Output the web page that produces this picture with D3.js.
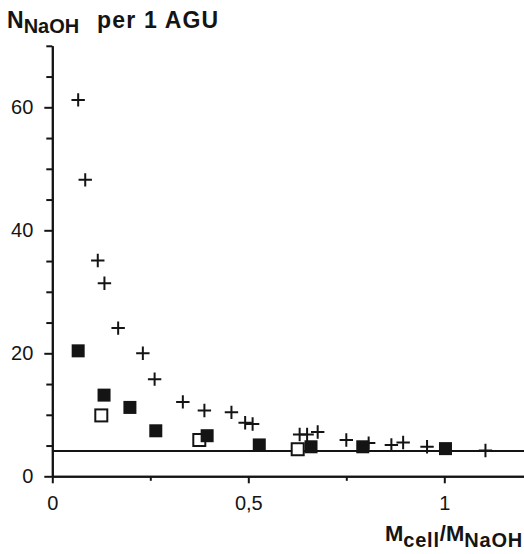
<!DOCTYPE html>
<html>
<head>
<meta charset="utf-8">
<script src="https://cdn.jsdelivr.net/npm/d3@7"></script>
<style>
  body { margin: 0; background: #fff; }
  svg { display: block; font-family: "Liberation Sans", Arial, sans-serif; }
</style>
</head>
<body>
<script>
// data
const crossX = [0.066, 0.084, 0.116, 0.133, 0.168, 0.231, 0.261, 0.333, 0.388, 0.457, 0.492, 0.511,
  0.631, 0.650, 0.677, 0.750, 0.807, 0.865, 0.895, 0.956, 1.105]
const crossY = [61.2, 48.2, 35.1, 31.4, 24.1, 20.0, 15.8, 12.1, 10.7, 10.4, 8.7, 8.5,
  6.8, 6.8, 7.2, 5.9, 5.4, 5.1, 5.5, 4.8, 4.2]
const filledX = [0.066, 0.132, 0.198, 0.264, 0.395, 0.528, 0.660, 0.792, 1.003]
const filledY = [20.4, 13.2, 11.2, 7.4, 6.6, 5.1, 4.8, 4.8, 4.5]
const openX = [0.125, 0.375, 0.626]
const openY = [9.9, 5.9, 4.4]
const limitY = 4.1

const yMajor = [0, 20, 40, 60]
const yMinor = [5, 10, 15, 25, 30, 35, 45, 50, 55, 65, 70]
const xMajor = [0, 0.5, 1]
const xMajorLabels = ["0", "0,5", "1"]
const xMinor = [0.25, 0.75]

const dims = { w: 524, h: 554, pl: 52.3, pr: 0, top: 45.8, bottom: 476.3 }
const ink = "#141414"

const svg = d3.select("body").append("svg")
  .attr("width", dims.w)
  .attr("height", dims.h)

const x = d3.scaleLinear().domain([0, (dims.w - dims.pl) / 392]).range([dims.pl, dims.w])
const y = d3.scaleLinear().domain([0, 70]).range([dims.bottom, dims.top])

// y axis: minor then major ticks
svg.append("g")
  .attr("transform", `translate(${dims.pl},0)`)
  .call(d3.axisLeft(y).tickValues(yMinor).tickSize(6).tickSizeOuter(0).tickFormat(""))
svg.append("g")
  .attr("transform", `translate(${dims.pl},0)`)
  .call(d3.axisLeft(y).tickValues(yMajor).tickSize(8).tickSizeOuter(0).tickPadding(11))

// x axis
svg.append("g")
  .attr("transform", `translate(0,${dims.bottom})`)
  .call(d3.axisBottom(x).tickValues(xMinor).tickSize(4.5).tickSizeOuter(0).tickFormat(""))
svg.append("g")
  .attr("transform", `translate(0,${dims.bottom})`)
  .call(d3.axisBottom(x).tickValues(xMajor).tickSize(7).tickSizeOuter(0).tickPadding(13)
    .tickFormat((d, i) => xMajorLabels[i]))

svg.selectAll(".domain, .tick line")
  .attr("stroke", ink)
  .attr("stroke-width", 2)
svg.selectAll(".tick text")
  .attr("fill", ink)
  .attr("font-size", 20)
  .attr("font-family", "Liberation Sans, Arial, sans-serif")

// horizontal reference line
svg.append("line")
  .attr("x1", dims.pl).attr("x2", dims.w)
  .attr("y1", y(limitY)).attr("y2", y(limitY))
  .attr("stroke", ink).attr("stroke-width", 2)

// crosses
const arm = 6.7
svg.append("g")
  .selectAll("path")
  .data(d3.range(crossX.length))
  .enter()
  .append("path")
  .attr("d", i => {
    const cx = x(crossX[i]), cy = y(crossY[i])
    return `M${cx - arm},${cy}H${cx + arm}M${cx},${cy - arm}V${cy + arm}`
  })
  .attr("stroke", ink)
  .attr("stroke-width", 2)
  .attr("fill", "none")

// open squares
svg.append("g")
  .selectAll("rect")
  .data(d3.range(openX.length))
  .enter()
  .append("rect")
  .attr("x", i => x(openX[i]) - 6)
  .attr("y", i => y(openY[i]) - 6)
  .attr("width", 12)
  .attr("height", 12)
  .attr("fill", "#fff")
  .attr("stroke", ink)
  .attr("stroke-width", 2)

// filled squares
svg.append("g")
  .selectAll("rect")
  .data(d3.range(filledX.length))
  .enter()
  .append("rect")
  .attr("x", i => x(filledX[i]) - 6.5)
  .attr("y", i => y(filledY[i]) - 6.5)
  .attr("width", 13)
  .attr("height", 13)
  .attr("fill", ink)

// axis titles
const title = svg.append("text")
  .attr("x", 7)
  .attr("y", 28)
  .attr("font-weight", "bold")
  .attr("font-size", 23)
  .attr("fill", ink)
title.append("tspan").text("N")
title.append("tspan").attr("font-size", 20).attr("dy", 5).text("NaOH")
title.append("tspan").attr("x", 97).attr("dy", -5).attr("letter-spacing", 1.2).text("per 1 AGU")

const xt = svg.append("text")
  .attr("x", 523)
  .attr("y", 541)
  .attr("text-anchor", "end")
  .attr("font-weight", "bold")
  .attr("font-size", 22)
  .attr("fill", ink)
xt.append("tspan").text("M")
xt.append("tspan").attr("font-size", 20).attr("dy", 6).attr("letter-spacing", 0.8).text("cell")
xt.append("tspan").attr("dy", -6).attr("letter-spacing", 0).text("/M")
xt.append("tspan").attr("font-size", 20).attr("dy", 6).attr("letter-spacing", 0.8).text("NaOH")
</script>
</body>
</html>
